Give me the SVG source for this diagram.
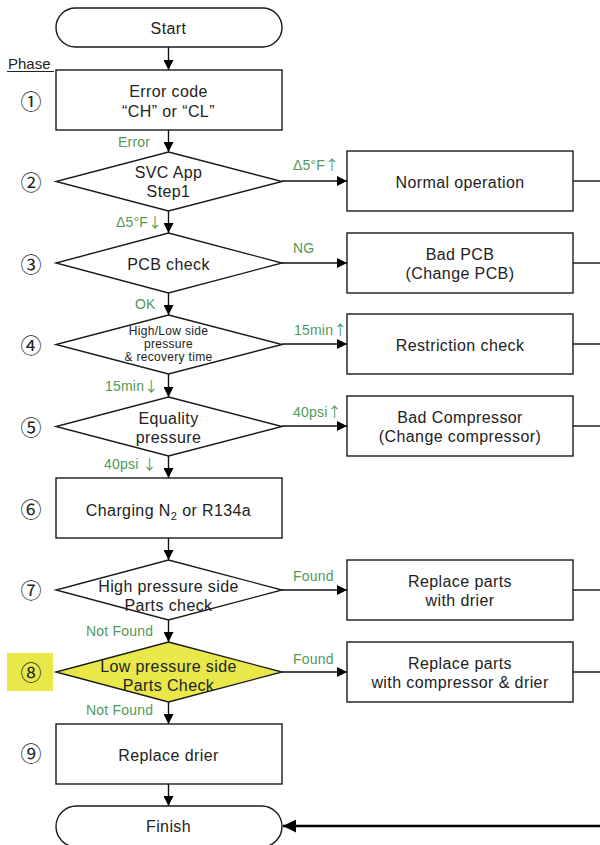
<svg xmlns="http://www.w3.org/2000/svg" width="600" height="845" viewBox="0 0 600 845">
<style>
.shape{fill:#fff;stroke:#1a1a1a;stroke-width:1.4}
.t{font-family:"Liberation Sans","DejaVu Sans",sans-serif;font-size:16px;fill:#222;text-anchor:middle;letter-spacing:0.4px}
.s{font-size:12px;letter-spacing:0.3px}
.g{font-family:"Liberation Sans","DejaVu Sans",sans-serif;font-size:14px;fill:#4f9a5a;letter-spacing:0.2px}
.ar{font-family:"Noto Sans CJK KR",sans-serif}
.n{font-family:"Noto Sans CJK KR","DejaVu Sans",sans-serif;font-size:21px;fill:#222;text-anchor:middle}
.c{stroke:#111;stroke-width:1.4;fill:none;marker-end:url(#ah)}
.r{stroke:#111;stroke-width:1.4;fill:none}
</style>
<defs>
<marker id="ah" viewBox="0 0 10 10" refX="10" refY="5" markerWidth="10" markerHeight="10" markerUnits="userSpaceOnUse" orient="auto"><path d="M0,0L10,5L0,10z" fill="#000"/></marker>
<marker id="ah2" viewBox="0 0 10 10" refX="10" refY="5" markerWidth="5" markerHeight="5" orient="auto"><path d="M0,0L10,5L0,10z" fill="#000"/></marker>
</defs>

<g id="phase-col">
<text x="8" y="69" font-family="Liberation Sans,DejaVu Sans,sans-serif" font-size="15" fill="#222">Phase</text>
<line x1="7" y1="71.5" x2="54" y2="71.5" stroke="#222" stroke-width="1"/>
<rect x="7" y="653" width="46" height="38" fill="#e8e84a"/>
<text class="n" x="31" y="109">①</text>
<text class="n" x="31" y="190">②</text>
<text class="n" x="31" y="272">③</text>
<text class="n" x="31" y="353">④</text>
<text class="n" x="31" y="435">⑤</text>
<text class="n" x="31" y="517">⑥</text>
<text class="n" x="31" y="598">⑦</text>
<text class="n" x="31" y="680">⑧</text>
<text class="n" x="31" y="761">⑨</text>
</g>

<g id="connectors">
<line class="c" x1="168.5" y1="47" x2="168.5" y2="70"/>
<line class="c" x1="168.5" y1="130" x2="168.5" y2="152"/>
<line class="c" x1="168.5" y1="211" x2="168.5" y2="233"/>
<line class="c" x1="168.5" y1="293" x2="168.5" y2="315"/>
<line class="c" x1="168.5" y1="374" x2="168.5" y2="397"/>
<line class="c" x1="168.5" y1="456" x2="168.5" y2="478"/>
<line class="c" x1="168.5" y1="538" x2="168.5" y2="560"/>
<line class="c" x1="168.5" y1="620" x2="168.5" y2="642"/>
<line class="c" x1="168.5" y1="702" x2="168.5" y2="724"/>
<line class="c" x1="168.5" y1="784" x2="168.5" y2="806"/>
<line class="c" x1="282" y1="181" x2="347" y2="181"/>
<line class="c" x1="282" y1="263" x2="347" y2="263"/>
<line class="c" x1="282" y1="344" x2="347" y2="344"/>
<line class="c" x1="282" y1="426" x2="347" y2="426"/>
<line class="c" x1="282" y1="590" x2="347" y2="590"/>
<line class="c" x1="282" y1="672" x2="347" y2="672"/>
<line class="r" x1="573" y1="181" x2="600" y2="181"/>
<line class="r" x1="573" y1="263" x2="600" y2="263"/>
<line class="r" x1="573" y1="344" x2="600" y2="344"/>
<line class="r" x1="573" y1="426" x2="600" y2="426"/>
<line class="r" x1="573" y1="590" x2="600" y2="590"/>
<line class="r" x1="573" y1="672" x2="600" y2="672"/>
<line x1="600" y1="826" x2="283" y2="826" stroke="#000" stroke-width="2.6" marker-end="url(#ah2)"/>
<text class="g" x="118" y="147">Error</text>
<text class="g" x="293" y="170">Δ5°F<tspan class="ar">↑</tspan></text>
<text class="g" x="116" y="227">Δ5°F<tspan class="ar">↓</tspan></text>
<text class="g" x="293" y="253">NG</text>
<text class="g" x="135" y="309">OK</text>
<text class="g" x="294" y="335">15min<tspan class="ar">↑</tspan></text>
<text class="g" x="105" y="391">15min<tspan class="ar">↓</tspan></text>
<text class="g" x="293" y="417">40psi<tspan class="ar">↑</tspan></text>
<text class="g" x="104" y="469">40psi <tspan class="ar">↓</tspan></text>
<text class="g" x="293" y="581">Found</text>
<text class="g" x="86" y="636">Not Found</text>
<text class="g" x="293" y="664">Found</text>
<text class="g" x="86" y="715">Not Found</text>
</g>

<g id="start"><rect class="shape" x="56" y="8" width="226" height="39" rx="19.5"/><text class="t" x="168.5" y="34">Start</text></g>
<g id="n1"><rect class="shape" x="56" y="70" width="226" height="60"/><text class="t" x="168.5" y="97">Error code</text><text class="t" x="168.5" y="117">“CH” or “CL”</text></g>
<g id="n2"><polygon class="shape" points="168.5,152 282,181.5 168.5,211 56,181.5"/><text class="t" x="168.5" y="178">SVC App</text><text class="t" x="168.5" y="197">Step1</text></g>
<g id="n2r"><rect class="shape" x="347" y="151" width="226" height="60"/><text class="t" x="460" y="188">Normal operation</text></g>
<g id="n3"><polygon class="shape" points="168.5,233 282,263 168.5,293 56,263"/><text class="t" x="168.5" y="270">PCB check</text></g>
<g id="n3r"><rect class="shape" x="347" y="233" width="226" height="60"/><text class="t" x="460" y="260">Bad PCB</text><text class="t" x="460" y="279">(Change PCB)</text></g>
<g id="n4"><polygon class="shape" points="168.5,315 282,344.5 168.5,374 56,344.5"/><text class="t s" x="168.5" y="335">High/Low side</text><text class="t s" x="168.5" y="348">pressure</text><text class="t s" x="168.5" y="361">&amp; recovery time</text></g>
<g id="n4r"><rect class="shape" x="347" y="314" width="226" height="60"/><text class="t" x="460" y="351">Restriction check</text></g>
<g id="n5"><polygon class="shape" points="168.5,397 282,426.5 168.5,456 56,426.5"/><text class="t" x="168.5" y="424">Equality</text><text class="t" x="168.5" y="443">pressure</text></g>
<g id="n5r"><rect class="shape" x="347" y="396" width="226" height="60"/><text class="t" x="460" y="423">Bad Compressor</text><text class="t" x="460" y="442">(Change compressor)</text></g>
<g id="n6"><rect class="shape" x="56" y="478" width="226" height="60"/><text class="t" x="168.5" y="516">Charging N<tspan font-size="11" dy="4">2</tspan><tspan dy="-4"> or R134a</tspan></text></g>
<g id="n7"><polygon class="shape" points="168.5,560 282,590 168.5,620 56,590"/><text class="t" x="168.5" y="592">High pressure side</text><text class="t" x="168.5" y="611">Parts check</text></g>
<g id="n7r"><rect class="shape" x="347" y="560" width="226" height="60"/><text class="t" x="460" y="587">Replace parts</text><text class="t" x="460" y="606">with drier</text></g>
<g id="n8"><polygon class="shape" style="fill:#e8e84a" points="168.5,642 282,672 168.5,702 56,672"/><text class="t" x="168.5" y="672">Low pressure side</text><text class="t" x="168.5" y="691">Parts Check</text></g>
<g id="n8r"><rect class="shape" x="347" y="642" width="226" height="60"/><text class="t" x="460" y="669">Replace parts</text><text class="t" x="460" y="688">with compressor &amp; drier</text></g>
<g id="n9"><rect class="shape" x="56" y="724" width="226" height="60"/><text class="t" x="168.5" y="761">Replace drier</text></g>
<g id="finish"><rect class="shape" x="56" y="806" width="226" height="41" rx="20.5"/><text class="t" x="168.5" y="832">Finish</text></g>
</svg>
